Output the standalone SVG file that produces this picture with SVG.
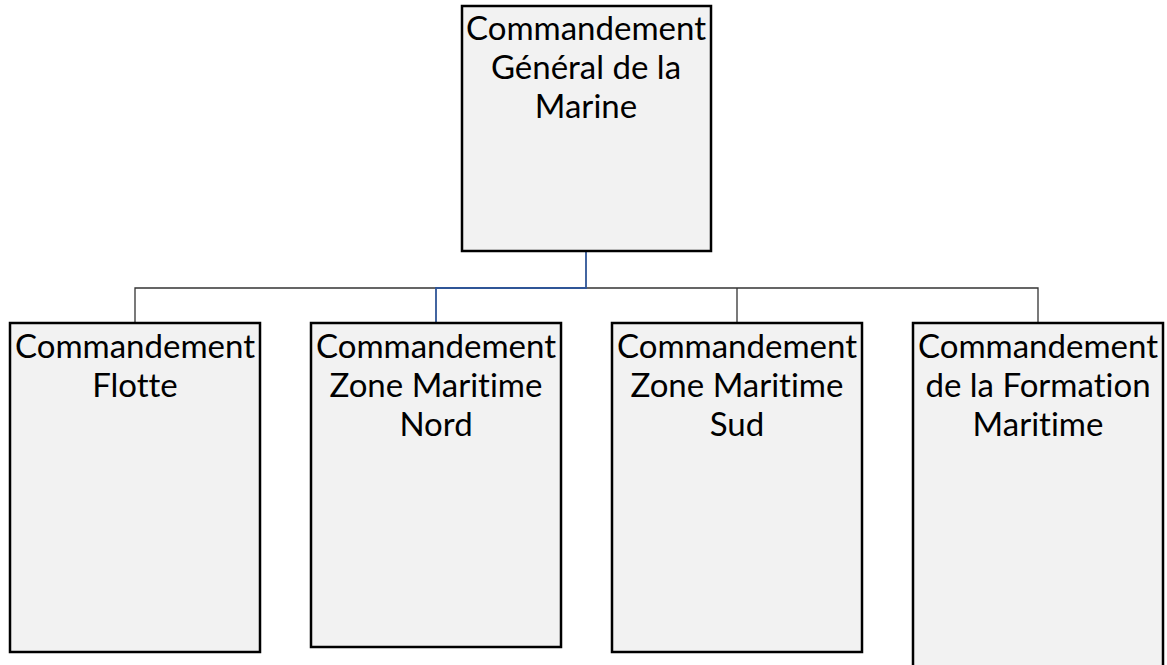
<svg xmlns="http://www.w3.org/2000/svg" width="1167" height="665" viewBox="0 0 1167 665">
<style>
.box{fill:#F2F2F2;stroke:#000;stroke-width:2.5}
.lbl{font-family:Lato,"Open Sans",sans-serif;font-size:33px;fill:#000;text-anchor:middle;font-variant-ligatures:none}
.con{fill:none;stroke:#333;stroke-width:1.3}
.sel{fill:none;stroke:#2F5597;stroke-width:1.8}
</style>
<rect width="1167" height="665" fill="#fff"/>
<g id="connectors">
<path class="con" d="M135 323V288H1038V323M737 288V323"/>
<path class="sel" d="M586 251V288H436V323"/>
</g>
<g id="node-top">
<rect class="box" x="462" y="6" width="249" height="245"/>
<text class="lbl" x="586" y="40">Commandement</text>
<text class="lbl" x="586" y="79">Général de la</text>
<text class="lbl" x="586" y="118">Marine</text>
</g>
<g id="node-flotte">
<rect class="box" x="10" y="323" width="250" height="329"/>
<text class="lbl" x="135" y="358">Commandement</text>
<text class="lbl" x="135" y="397">Flotte</text>
</g>
<g id="node-nord">
<rect class="box" x="311" y="323" width="250" height="324"/>
<text class="lbl" x="436" y="358">Commandement</text>
<text class="lbl" x="436" y="397">Zone Maritime</text>
<text class="lbl" x="436" y="436">Nord</text>
</g>
<g id="node-sud">
<rect class="box" x="612" y="323" width="250" height="329"/>
<text class="lbl" x="737" y="358">Commandement</text>
<text class="lbl" x="737" y="397">Zone Maritime</text>
<text class="lbl" x="737" y="436">Sud</text>
</g>
<g id="node-formation">
<rect class="box" x="913" y="323" width="250" height="360"/>
<text class="lbl" x="1038" y="358">Commandement</text>
<text class="lbl" x="1038" y="397">de la Formation</text>
<text class="lbl" x="1038" y="436">Maritime</text>
</g>
</svg>
